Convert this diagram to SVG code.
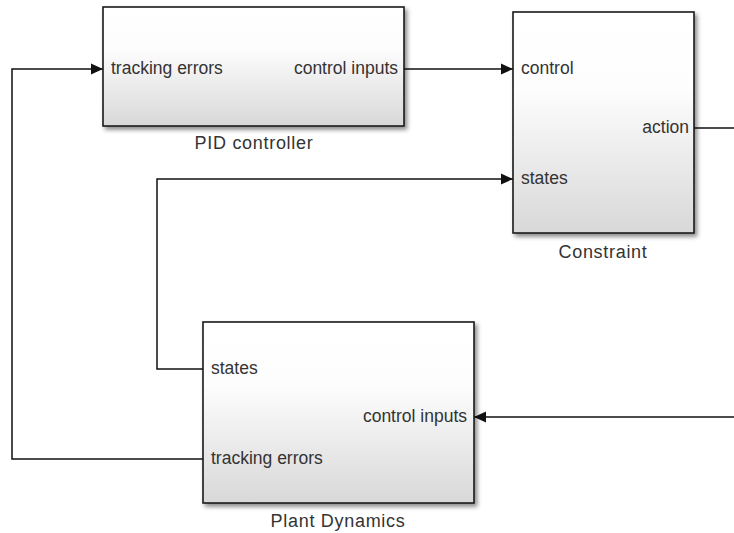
<svg xmlns="http://www.w3.org/2000/svg" width="734" height="533" viewBox="0 0 734 533">
<style>
.blk{fill:url(#g);stroke:#1a1a1a;stroke-width:1.6;filter:url(#sh)}
.pl{font-family:"Liberation Sans",Arial,sans-serif;font-size:17.5px;fill:#333}
.bl{font-family:"Liberation Sans",Arial,sans-serif;font-size:18px;letter-spacing:0.7px;fill:#333;text-anchor:middle}
.r{text-anchor:end}
.ln{fill:none;stroke:#111;stroke-width:1.5}
</style>
<defs>
<linearGradient id="g" x1="0" y1="0" x2="0" y2="1">
<stop offset="0" stop-color="#ffffff"/>
<stop offset="0.35" stop-color="#fdfdfd"/>
<stop offset="1" stop-color="#d8d8d8"/>
</linearGradient>
<filter id="sh" x="-10%" y="-10%" width="125%" height="130%">
<feDropShadow dx="2.5" dy="3" stdDeviation="2" flood-color="#000" flood-opacity="0.45"/>
</filter>
<marker id="ah" viewBox="0 0 12 12" refX="12" refY="6" markerWidth="12" markerHeight="12" markerUnits="userSpaceOnUse" orient="auto">
<path d="M0,0.5 L12,6 L0,11.5 Z" fill="#111"/>
</marker>
</defs>
<g id="connectors">
<path class="ln" d="M404,69 H513" marker-end="url(#ah)"/>
<path class="ln" d="M694,128 H734"/>
<path class="ln" d="M203,369 H157 V179 H513" marker-end="url(#ah)"/>
<path class="ln" d="M203,459 H12 V69 H103" marker-end="url(#ah)"/>
<path class="ln" d="M734,417 H474" marker-end="url(#ah)"/>
</g>
<g id="pid">
<rect class="blk" x="103" y="7" width="301" height="119"/>
<text class="pl" x="111" y="74">tracking errors</text>
<text class="pl r" x="398" y="74">control inputs</text>
<text class="bl" x="254" y="149">PID controller</text>
</g>
<g id="constraint">
<rect class="blk" x="513" y="12" width="181" height="221"/>
<text class="pl" x="521" y="74">control</text>
<text class="pl" x="521" y="184">states</text>
<text class="pl r" x="689" y="133">action</text>
<text class="bl" x="603" y="258">Constraint</text>
</g>
<g id="plant">
<rect class="blk" x="203" y="322" width="271" height="181"/>
<text class="pl" x="211" y="374">states</text>
<text class="pl" x="211" y="464">tracking errors</text>
<text class="pl r" x="467" y="422">control inputs</text>
<text class="bl" x="338" y="527">Plant Dynamics</text>
</g>
</svg>
